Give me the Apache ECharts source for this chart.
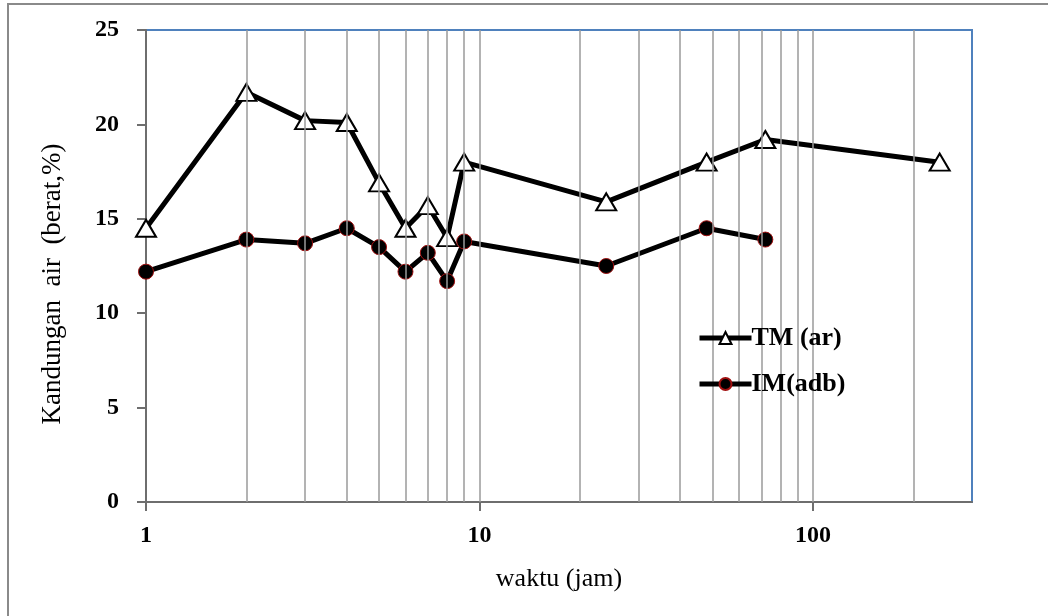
<!DOCTYPE html>
<html>
<head>
<meta charset="utf-8">
<script src="https://cdn.jsdelivr.net/npm/echarts@6/dist/echarts.min.js"></script>
<style>
html,body{margin:0;padding:0;background:#fff;}
#chart{width:1048px;height:616px;}
</style>
</head>
<body>
<div id="chart"></div>
<script>
// Data
const tmHours = [1, 2, 3, 4, 5, 6, 7, 8, 9, 24, 48, 72, 240];
const tmValues = [14.5, 21.7, 20.2, 20.1, 16.9, 14.5, 15.7, 14.0, 18.0, 15.9, 18.0, 19.2, 18.0];
const imHours = [1, 2, 3, 4, 5, 6, 7, 8, 9, 24, 48, 72];
const imValues = [12.2, 13.9, 13.7, 14.5, 13.5, 12.2, 13.2, 11.7, 13.8, 12.5, 14.5, 13.9];
const gridHours = [2, 3, 4, 5, 6, 7, 8, 9, 10, 20, 30, 40, 50, 60, 70, 80, 90, 100, 200];
const seriesNames = ['TM (ar)', 'IM(adb)'];
const xTitle = 'waktu (jam)';
const yTitle = 'Kandungan  air  (berat,%)';

const serif = '"Liberation Serif", "DejaVu Serif", serif';
const chart = echarts.init(document.getElementById('chart'), null, {renderer: 'canvas'});

chart.setOption({
  animation: false,
  backgroundColor: '#ffffff',
  graphic: [{
    type: 'rect', shape: {x: 8, y: 4, width: 1200, height: 800},
    style: {fill: 'none', stroke: '#8a8a8a', lineWidth: 2}, silent: true, z: 0
  }, {
    type: 'text', x: 53, y: 284, rotation: Math.PI / 2, silent: true,
    style: {text: yTitle, font: '27px ' + serif, fill: '#000', align: 'center', verticalAlign: 'middle'}
  }],
  grid: {
    left: 146, top: 30, right: 76, bottom: 114,
    show: true, borderColor: '#4f81bd', borderWidth: 2, backgroundColor: 'transparent'
  },
  legend: {
    orient: 'vertical', left: 692, top: 320, itemGap: 20, z: 10,
    itemWidth: 52, itemHeight: 15,
    lineStyle: {width: 5, color: '#000', type: 'solid', opacity: 1},
    textStyle: {fontFamily: serif, fontSize: 26, fontWeight: 'bold', color: '#000', padding: [0, 0, 0, -5]},
    data: seriesNames
  },
  xAxis: {
    type: 'log', logBase: 10, min: 1, max: 300,
    name: xTitle, nameLocation: 'middle', nameGap: 64,
    nameTextStyle: {fontFamily: serif, fontSize: 26, color: '#000'},
    axisLine: {show: true, lineStyle: {color: '#6e6e6e', width: 2}},
    axisTick: {show: true, inside: false, length: 9, lineStyle: {color: '#6e6e6e', width: 2}},
    minorTick: {show: false},
    splitLine: {show: false},
    axisLabel: {fontFamily: serif, fontSize: 24, fontWeight: 'bold', color: '#000', margin: 22,
      formatter: v => String(Math.round(v)), showMaxLabel: false}
  },
  yAxis: {
    type: 'value', min: 0, max: 25, interval: 5,
    axisLine: {show: true, lineStyle: {color: '#6e6e6e', width: 2}},
    axisTick: {show: true, inside: false, length: 9, lineStyle: {color: '#6e6e6e', width: 2}},
    splitLine: {show: false},
    axisLabel: {fontFamily: serif, fontSize: 24, fontWeight: 'bold', color: '#000', margin: 27}
  },
  series: [
    {
      name: 'grid', type: 'line', data: [], silent: true,
      markLine: {
        silent: true, symbol: ['none', 'none'], label: {show: false},
        lineStyle: {color: '#9a9a9a', width: 1.5, type: 'solid'},
        data: gridHours.map(h => ({xAxis: h}))
      },
      z: 1
    },
    {
      name: seriesNames[0], type: 'line',
      data: tmHours.map((h, i) => [h, tmValues[i]]),
      symbol: 'triangle', symbolSize: [20, 17],
      lineStyle: {color: '#000', width: 5, type: 'solid'},
      itemStyle: {color: '#ffffff', borderColor: '#000', borderWidth: 2},
      z: 3
    },
    {
      name: seriesNames[1], type: 'line',
      data: imHours.map((h, i) => [h, imValues[i]]),
      symbol: 'circle', symbolSize: 15,
      lineStyle: {color: '#000', width: 5, type: 'solid'},
      itemStyle: {color: '#000', borderColor: '#a01010', borderWidth: 1},
      z: 4
    }
  ]
});
</script>
</body>
</html>
